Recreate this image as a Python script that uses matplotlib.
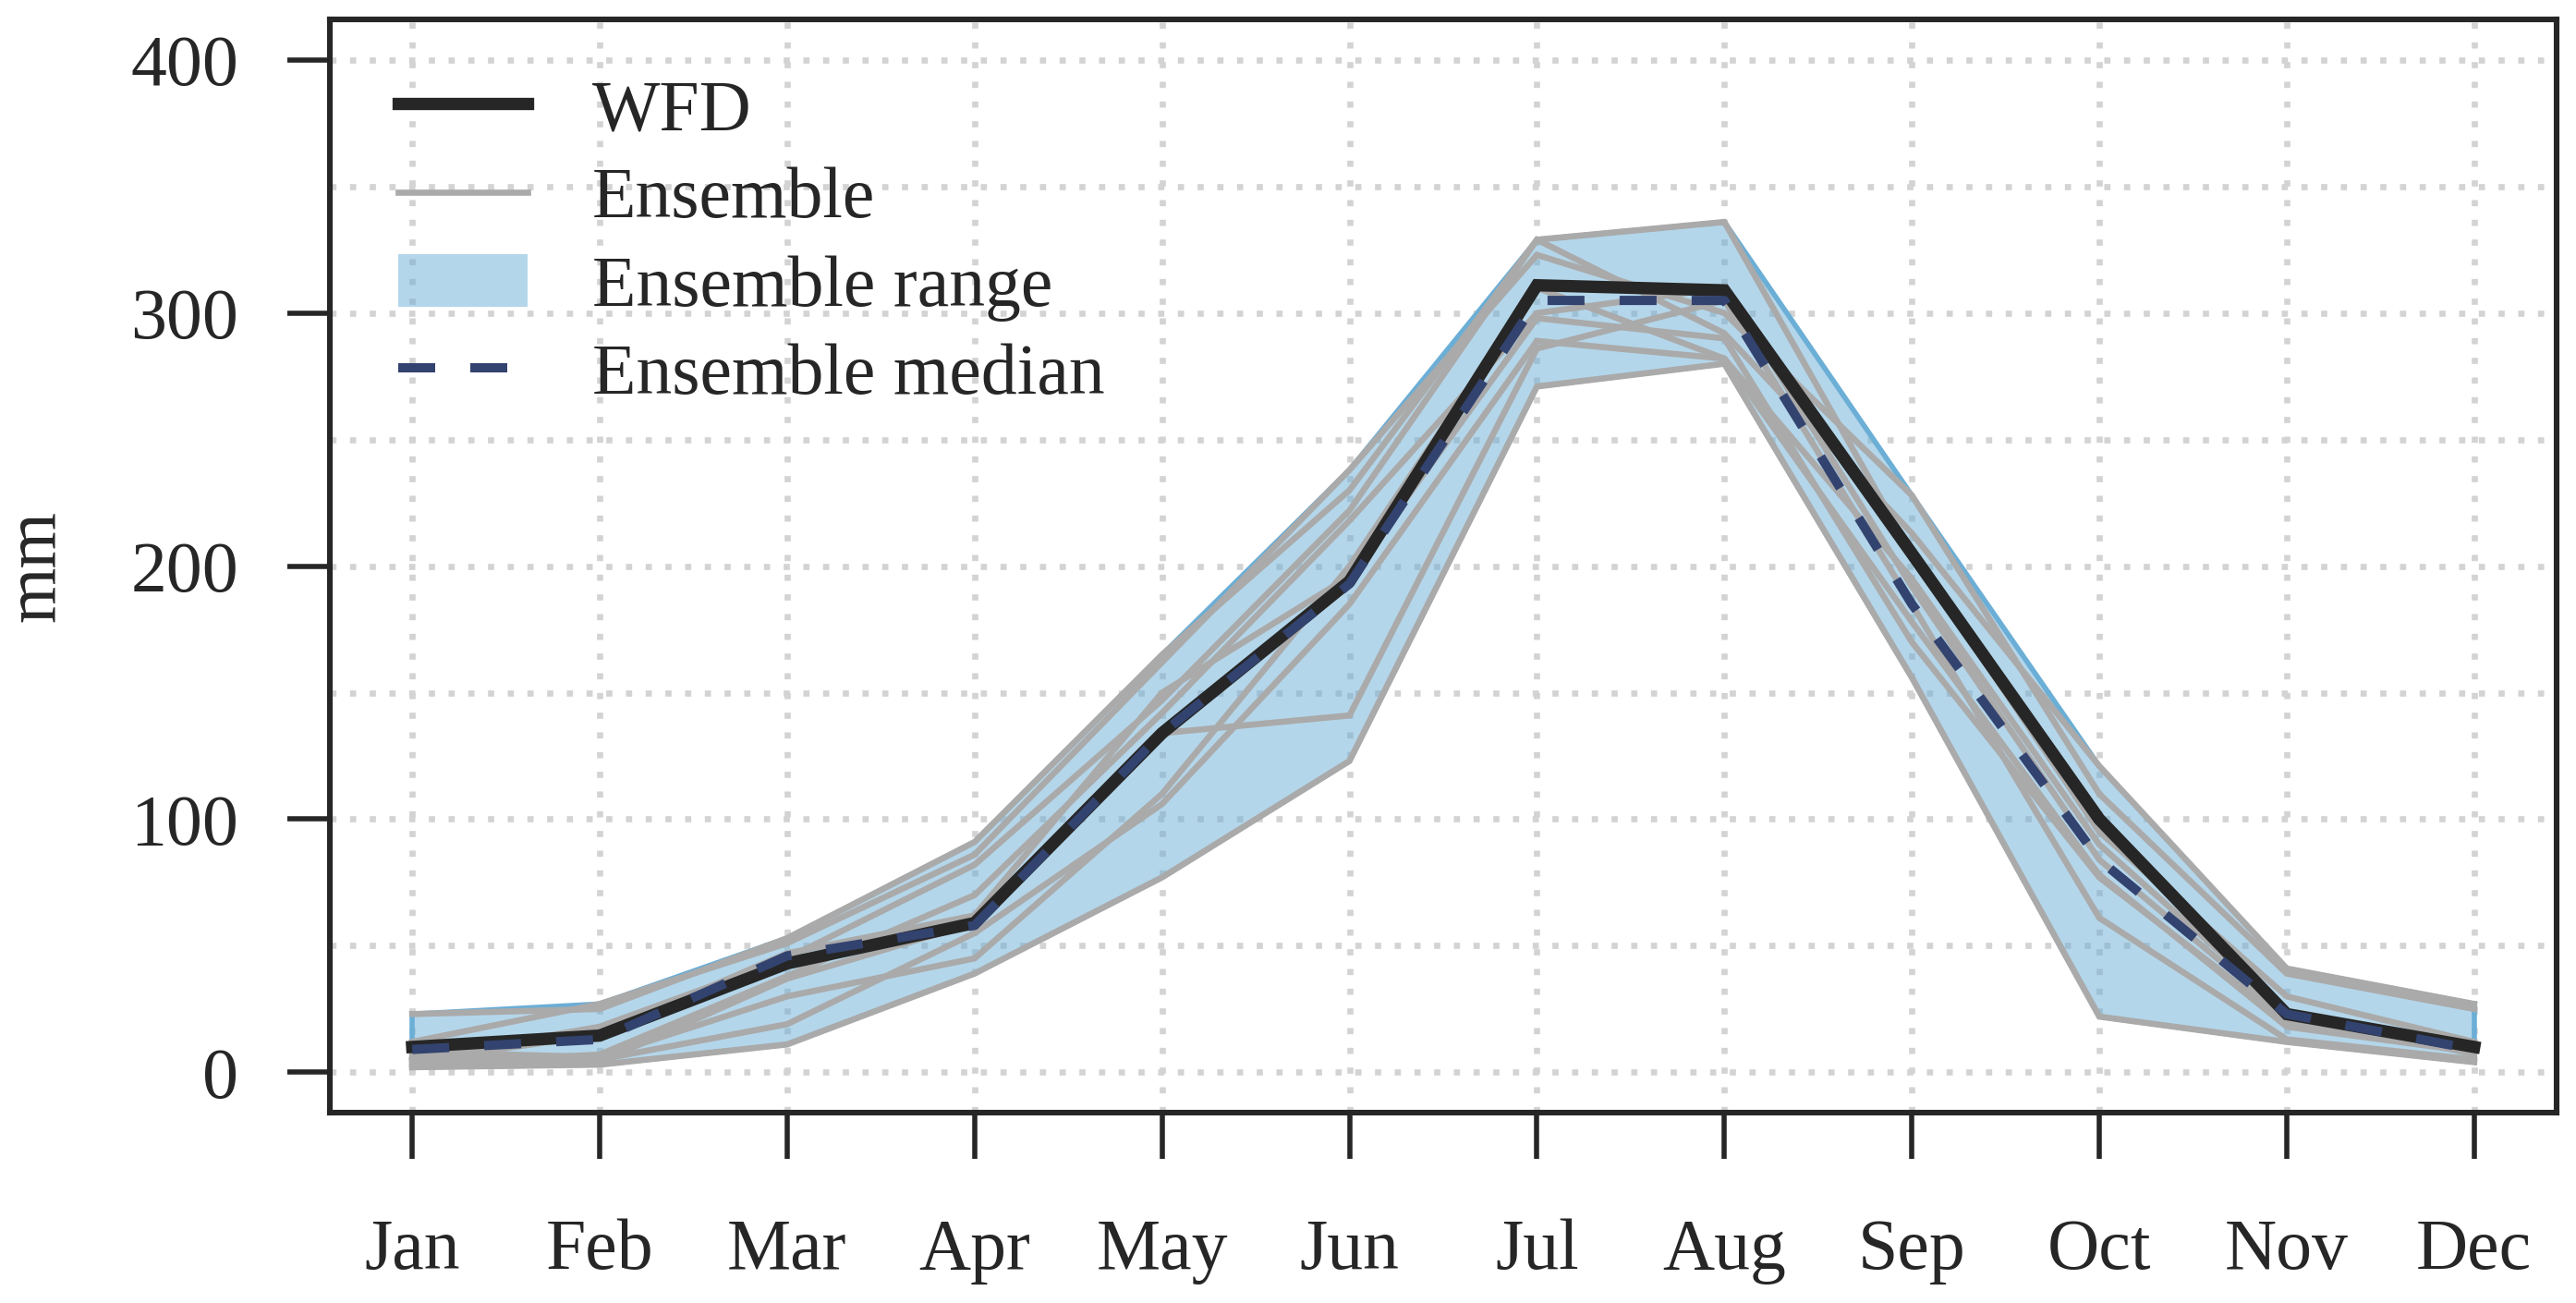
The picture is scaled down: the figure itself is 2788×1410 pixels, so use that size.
import matplotlib
matplotlib.use("Agg")
import matplotlib.pyplot as plt
from matplotlib.lines import Line2D
from matplotlib.patches import Patch
import numpy as np

months = ["Jan", "Feb", "Mar", "Apr", "May", "Jun", "Jul", "Aug", "Sep", "Oct", "Nov", "Dec"]

wfd = [10, 14.5, 43, 59, 134, 194, 311, 309, 205, 100, 23, 10]
ens_median = [9, 13, 46, 58, 134, 193, 305, 305, 185, 84, 23, 9]

ens_1 = [23, 25, 53, 91, 165, 230, 329, 292, 213, 121, 41, 27]
ens_2 = [12, 27, 51, 86, 162, 238, 323, 300, 228, 110, 39, 25]
ens_3 = [5, 18, 45, 82, 147, 222, 329, 336, 205, 95, 30, 12]
ens_4 = [3, 7, 38, 70, 142, 218, 300, 310, 192, 84, 22, 10]
ens_5 = [2, 5, 19, 55, 106, 185, 289, 282, 178, 78, 18, 8]
ens_6 = [2, 3, 11, 39, 77, 123, 271, 280, 156, 22, 12, 4]
ens_7 = [6, 4, 37, 59, 134, 141, 286, 305, 185, 61, 13, 5]
ens_8 = [4, 15, 47, 62, 150, 196, 298, 290, 170, 77, 20, 9]
ens_9 = [8, 6, 30, 45, 110, 200, 310, 282, 195, 90, 24, 7]
ensemble = [ens_1, ens_2, ens_3, ens_4, ens_5, ens_6, ens_7, ens_8, ens_9]

y_ticks = [0, 100, 200, 300, 400]
legend_labels = ["WFD", "Ensemble", "Ensemble range", "Ensemble median"]

plt.rcParams['font.family'] = ['Liberation Serif', 'DejaVu Serif']

DARK = "#262626"
GRAY = "#AAAAAA"
NAVY = "#33436F"
EDGE = "#6BAED6"

fig = plt.figure(figsize=(13.94, 7.05), dpi=200)
ax = fig.add_axes([0.128, 0.146, 0.8645, 0.839])

x = np.arange(1, 13)
ens = np.array(ensemble)
lo = ens.min(axis=0)
hi = ens.max(axis=0)

# grid
for v in range(0, 401, 50):
    ax.axhline(v, color="#D3D3D3", lw=2.4, ls=(0, (1, 2.2)), zorder=1, dash_capstyle='butt')
for xi in x:
    ax.axvline(xi, color="#D3D3D3", lw=2.4, ls=(0, (1, 2.2)), zorder=1, dash_capstyle='butt')

ax.fill_between(x, lo, hi, facecolor=EDGE, alpha=0.5, edgecolor='none', zorder=2)
ax.plot(x, hi, color=EDGE, lw=2.0, zorder=2.5)
ax.plot(x, lo, color=EDGE, lw=2.0, zorder=2.5)
ax.plot([1, 1], [lo[0], hi[0]], color=EDGE, lw=2.0, zorder=2.5)
ax.plot([12, 12], [lo[-1], hi[-1]], color=EDGE, lw=2.0, zorder=2.5)

for m in ensemble:
    ax.plot(x, m, color=GRAY, lw=2.4, zorder=3, solid_joinstyle='miter')

ax.plot(x, wfd, color=DARK, lw=4.8, zorder=4, solid_joinstyle='miter')
ax.plot(x, ens_median, color=NAVY, lw=3.6, ls=(0, (4, 3.8)), zorder=5, dash_capstyle='butt')

ax.set_xlim(1 - 0.44, 12 + 0.44)
ax.set_ylim(-16, 416)
ax.set_xticks(x)
ax.set_xticklabels(months)
ax.set_yticks(y_ticks)
ax.set_yticklabels([str(t) for t in y_ticks])
ax.tick_params(axis='y', length=16.5, width=2.0, color=DARK, labelsize=28, pad=19, labelcolor=DARK)
ax.tick_params(axis='x', length=18, width=2.0, color=DARK, labelsize=28, pad=23, labelcolor=DARK)
for s in ax.spines.values():
    s.set_linewidth(2.2)
    s.set_color(DARK)
ax.set_ylabel("mm", fontsize=28, color=DARK)
ax.yaxis.set_label_coords(-0.117, 0.5)

handles = [
    Line2D([0], [0], color=DARK, lw=4.8),
    Line2D([0], [0], color=GRAY, lw=2.4),
    Patch(facecolor=EDGE, alpha=0.5, edgecolor='none'),
    Line2D([0], [0], color=NAVY, lw=3.6, ls=(0, (4, 3.8))),
]
leg = fig.legend(handles, legend_labels, loc='upper left', bbox_to_anchor=(0.1545, 0.940),
                 frameon=False, fontsize=28, handlelength=1.8, handletextpad=0.9,
                 labelspacing=0.29, borderpad=0, borderaxespad=0, handleheight=0.75)
for t in leg.get_texts():
    t.set_color(DARK)

fig.savefig("out.png", dpi=200)
